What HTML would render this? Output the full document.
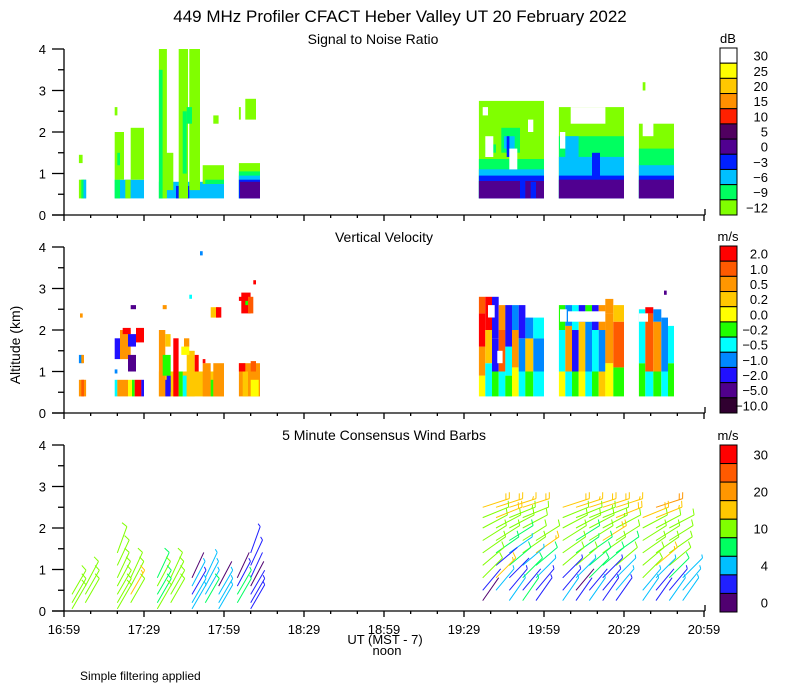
<!DOCTYPE html>
<html><head><meta charset="utf-8"><style>
body{margin:0;background:#fff;}
svg{display:block;font-family:"Liberation Sans",sans-serif;}
</style></head><body>
<svg id="chart" width="800" height="700" viewBox="0 0 800 700">
<text x="400" y="22" font-size="17" text-anchor="middle">449 MHz Profiler CFACT Heber Valley UT 20 February 2022</text>
<text x="373" y="44" font-size="14" text-anchor="middle">Signal to Noise Ratio</text>
<text x="384" y="242" font-size="14" text-anchor="middle">Vertical Velocity</text>
<text x="384" y="440" font-size="14" text-anchor="middle">5 Minute Consensus Wind Barbs</text>
<text x="20" y="345" font-size="14" text-anchor="middle" transform="rotate(-90 20 345)">Altitude (km)</text>
<text x="385" y="644" font-size="13" text-anchor="middle">UT  (MST - 7)</text>
<text x="387" y="655" font-size="13" text-anchor="middle">noon</text>
<text x="80" y="680" font-size="12">Simple filtering applied</text>
<g id="layers"></g>
</svg>
<script>
// ---- data ----
const xTickLabels = ["16:59","17:29","17:59","18:29","18:59","19:29","19:59","20:29","20:59"];
const yTickLabels = ["0","1","2","3","4"];
const snrColors = ["#80ff00","#00ff60","#00c0ff","#0020ff","#500090","#500060","#ff2000","#ff9000","#ffc800","#ffff00","#ffffff"];
const snrLabels = ["-12","-9","-6","-3","0","5","10","15","20","25","30"];
const vvColors = ["#ff0000","#ff5a00","#ff9600","#ffc800","#ffff00","#20ff00","#00ffff","#0088ff","#2010ff","#50008c","#300030"];
const vvLabels = ["2.0","1.0","0.5","0.2","0.0","-0.2","-0.5","-1.0","-2.0","-5.0","-10.0"];
const windColors = ["#ff0000","#ff5a00","#ff9600","#ffc800","#80ff00","#00ff60","#00bfff","#2020ff","#500070"];
const windLabels = ["30","","20","","10","","4","","0"];
const windBreaks = [30,25,20,15,10,7,4,2,0];
// rect cells: [t0 (min after 16:59), t1, h0 (km), h1, level]; level -1 = blank
const snrCells = [
[5.6,8.3,0.4,0.85,0],[6.5,7.5,0.4,0.85,1],[7.3,8.3,0.4,0.85,2],[5.6,7,1.25,1.45,0],
[19,30,0.4,0.85,2],[19,21,0.4,0.85,1],[23,25,0.4,0.85,0],[19,22.5,0.85,2.0,0],[25,30,0.85,2.1,0],[20,21,1.2,1.5,1],[19,20,2.4,2.6,0],
[35.6,60,0.4,0.8,2],[42,47,0.4,0.7,3],[35.6,38.6,0.4,4,0],[35.6,37,0.4,3.5,1],[38,41,0.6,1.5,0],[43,46.5,0.4,4,0],[47,51,0.6,4,0],[44.5,46,1.0,2.5,1],[46,48,2.2,2.6,1],[52,60,0.75,1.2,0],[53,60,0.75,0.85,1],[56,58,2.2,2.4,0],
[65.6,73.5,0.4,1.25,0],[65.6,73.5,0.4,1.05,1],[65.6,73.5,0.4,0.95,2],[65.6,73.5,0.4,0.85,3],[66,73.5,0.4,0.8,4],[65.6,66.3,2.3,2.6,0],[68,72,2.3,2.8,0],
[155.6,180,0.4,2.75,0],[155.6,180,0.4,1.35,1],[164,171,1.5,2.1,1],[158,162,1.5,1.7,1],[155.6,180,0.4,1.1,2],[165,169,1.6,1.9,2],[166,167,1.4,1.9,3],[155.6,180,0.4,0.95,3],[155.6,180,0.4,0.82,4],[171,173,0.4,0.9,3],[175,177,0.4,0.8,3],[158,161,1.4,1.9,-1],[167,170,1.1,1.6,-1],[174,176,2.0,2.3,-1],[157,159,2.4,2.6,-1],
[185.6,210,0.4,2.6,0],[185.6,210,0.4,1.9,1],[185.6,210,0.4,1.4,2],[188,193,1.4,1.9,2],[185.6,210,0.4,0.95,3],[198,201,0.9,1.5,3],[185.6,210,0.4,0.85,4],[190,203,2.2,2.6,-1],[186,188,1.6,2.0,-1],
[215.6,228.75,0.4,2.2,0],[215.6,228.75,0.4,1.6,1],[215.6,228.75,0.4,1.2,2],[215.6,228.75,0.4,0.95,3],[215.6,228.75,0.4,0.85,4],[217,221,1.9,2.3,-1],[217,218,3.0,3.2,0]
];
const vvCells = [
[5.6,8.3,0.4,0.8,2],[6.5,7.5,0.4,0.8,1],[5.6,7,1.2,1.4,7],[6.5,7.5,1.2,1.4,2],[6,7,2.3,2.4,2],
[19,20,0.4,0.8,6],[20,24,0.4,0.8,2],[24,25.5,0.4,0.8,4],[25.5,26.5,0.4,0.8,5],[26.5,29,0.4,0.8,0],[29,30,0.4,0.8,8],
[19,21,1.3,1.8,8],[21,25,1.3,2.0,2],[22,25,1.9,2.05,0],[24,27,1.6,1.9,8],[27,30,1.7,2.05,0],[24,27,1.0,1.4,9],[19,20,0.95,1.05,7],[25,27,2.5,2.6,9],
[35.6,60,0.4,1.0,3],[35.6,38,0.4,2.0,2],[41,43,0.4,1.8,0],[38,40,0.4,0.8,8],[38.5,40,0.5,0.9,8],[43,44.5,0.4,1.0,5],[44.5,46,0.4,0.9,6],[46,49,0.4,1.5,3],[49,50.5,1.0,1.4,0],[52,55,0.4,1.2,2],[55,56,0.4,0.8,5],[56,60,0.4,1.2,2],[37,40,0.9,1.4,5],[44,47,1.4,1.6,4],[45,47,1.6,1.8,2],[38,40,1.6,1.9,3],[37,38.5,2.5,2.6,2],[47,48,2.75,2.85,6],[55,58,2.3,2.55,3],[57,59,2.3,2.55,0],[51,52,3.8,3.9,7],[52,53,1.2,1.3,0],
[65.6,73.5,0.4,1.2,2],[67,69,0.4,1.0,3],[70,73,0.4,0.8,4],[65.6,68,1.0,1.2,0],[70,72,1.0,1.25,1],[65.6,67,2.7,2.8,0],[66.5,70,2.4,2.9,0],[69,71,2.4,2.8,1],[68,69,2.6,2.7,5],[71,72,3.1,3.2,0],
[155.6,158,0.4,0.9,4],[155.6,158,0.9,1.6,2],[155.6,158,1.6,2.4,0],[155.6,158,2.4,2.8,1],
[158,160.5,0.4,1.2,6],[158,160.5,1.2,2.0,3],[158,160.5,2.0,2.8,0],
[160.5,163,0.4,1.0,5],[160.5,163,1.0,1.8,8],[160.5,163,1.8,2.8,8],
[163,165.5,0.4,1.0,6],[163,165.5,1.0,2.0,1],[163,165.5,2.0,2.6,2],
[165.5,168,0.4,0.9,5],[165.5,168,0.9,1.6,6],[165.5,168,1.6,2.6,8],
[168,170.5,0.4,1.1,4],[168,170.5,1.1,2.0,2],[168,170.5,2.0,2.6,7],
[170.5,173,0.4,1.0,6],[170.5,173,1.0,1.8,7],[170.5,173,1.8,2.6,8],
[173,176,0.4,1.0,5],[173,176,1.0,1.8,3],[173,176,1.8,2.3,7],
[176,180,0.4,1.0,6],[176,180,1.0,1.8,7],[176,180,1.8,2.3,6],
[159,161.5,2.3,2.6,-1],[162.5,164.5,1.2,1.5,-1],[174,180,2.3,2.6,-1],
[185.6,188,0.4,1.0,4],[185.6,188,1.0,2.0,6],[185.6,188,2.0,2.6,5],
[188,190.5,0.4,1.0,6],[188,190.5,1.0,2.1,2],[188,190.5,2.1,2.6,7],
[190.5,193,0.4,1.0,5],[190.5,193,1.0,2.0,8],[190.5,193,2.0,2.6,6],
[193,195.5,0.4,1.0,4],[193,195.5,1.0,2.2,3],[193,195.5,2.2,2.6,8],
[195.5,198,0.4,1.0,6],[195.5,198,1.0,2.2,7],[195.5,198,2.2,2.6,5],
[198,200.5,0.4,1.0,5],[198,200.5,1.0,2.0,6],[198,200.5,2.0,2.6,8],
[200.5,203,0.4,1.0,3],[200.5,203,1.0,2.0,7],[200.5,203,2.0,2.6,2],
[203,206,0.4,1.2,4],[203,206,1.2,2.4,2],[203,206,2.4,2.75,2],
[206,210,0.4,1.1,5],[206,210,1.1,2.2,1],[206,210,2.2,2.6,3],
[189,203,2.2,2.45,-1],[186,188.5,2.2,2.5,-1],
[215.6,218,0.4,1.2,5],[215.6,218,1.2,2.5,6],
[218,221,0.4,1.0,6],[218,221,1.0,2.4,1],[218,221,2.4,2.55,0],
[221,224,0.4,1.0,5],[221,224,1.0,2.2,2],[221,224,2.2,2.5,7],
[224,226.5,0.4,1.0,6],[224,226.5,1.0,2.3,7],
[226.5,228.75,0.4,1.2,5],[226.5,228.75,1.2,2.1,6],
[215.6,219,2.2,2.4,-1],[225,226,2.85,2.95,9]
];
// wind barbs (right group)
const rightTimes = [157,162,167,172,177,187,192,197,202,207,212,217,222,227,232];
const rightHeights = [2.5,2.25,2.0,1.7,1.4,1.1,0.8,0.5,0.25];
const rightDirs = [72,68,62,58,55,50,45,40,35];
const rightSpeeds = [
[18,18,17,18,null,18,17,18,18,17,null,null,21,null,null],
[12,18,13,12,null,12,12,13,12,18,null,18,17,null,null],
[11,12,12,12,null,12,11,12,13,12,null,12,11,12,null],
[12,11,8,12,11,12,8,12,18,12,null,12,12,12,null],
[10,9,4,12,17,12,7,9,12,8,null,12,10,12,null],
[12,2,8,6,9,11,12,8,9,12,null,12,17,12,null],
[11,17,2,9,4,3,4,9,3,6,null,11,5,9,5],
[2,4,3,2,3,3,1,2,3,4,null,6,2,3,5],
[1,null,4,7,3,5,2,6,3,3,null,5,2,4,6]
];
// wind barbs (left group)
const leftTimes = [3,8,20,25,35,40,48,53,58,65,70];
const leftHeights = [1.4,1.1,0.8,0.6,0.4,0.2,0.05];
const leftDirs = [20,25,25,28,30,30,30];
const leftSpeeds = [
[null,null,12,null,null,null,null,null,null,null,3],
[null,null,12,null,null,null,null,null,null,null,3],
[null,null,12,12,8,12,1,4,null,1,2],
[null,12,11,12,12,12,4,4,1,3,1],
[12,12,12,17,8,12,3,5,6,7,2],
[12,12,12,12,8,12,5,8,6,7,3],
[12,null,12,null,12,null,5,null,6,null,3]
];
// ---- rendering ----
const NS="http://www.w3.org/2000/svg";
const root=document.getElementById('layers');
const bases=[215,413,611];
const X=t=>64+t*80/30;
const Y=(b,h)=>b-h*41.5;
function mk(tag,attrs,parent){const e=document.createElementNS(NS,tag);for(const k in attrs)e.setAttribute(k,attrs[k]);(parent||root).appendChild(e);return e;}
function drawCells(cells,colors,base,name){
  const g=mk('g',{});
  
  
  cells.forEach(c=>{
    const x0=X(c[0]),x1=X(c[1]),y0=Y(base,c[3]),y1=Y(base,c[2]);
    const r=mk('rect',{x:x0.toFixed(1),y:y0.toFixed(1),width:(x1-x0).toFixed(1),height:(y1-y0).toFixed(1),fill:c[4]<0?'#ffffff':colors[c[4]]},g);
    
    
  });
}
drawCells(snrCells,snrColors,bases[0],'snr-heatmap');
drawCells(vvCells,vvColors,bases[1],'vv-heatmap');
function windColor(s){for(let i=0;i<windBreaks.length;i++){if(s>=windBreaks[i])return windColors[i];}return windColors[8];}
function drawBarbs(times,heights,dirs,speeds,name){
  const g=mk('g',{});
  
  
  heights.forEach((h,ri)=>{times.forEach((t,ci)=>{
    const s=speeds[ri][ci]; if(s===null)return;
    const d=dirs[ri]*Math.PI/180, L=28;
    const x0=X(t),y0=Y(bases[2],h);
    const ux=Math.sin(d),uy=-Math.cos(d);
    const x1=x0+ux*L,y1=y0+uy*L;
    const col=windColor(s);
    let p=`M${x0.toFixed(1)},${y0.toFixed(1)}L${x1.toFixed(1)},${y1.toFixed(1)}`;
    const px=-uy,py=ux;
    let n=Math.round(s/5);
    for(let k=0;k<n;k+=2){
      const bx=x1-ux*k*1.8,by=y1-uy*k*1.8;
      const fl=(n-k>=2)?6:3;
      p+=`M${bx.toFixed(1)},${by.toFixed(1)}L${(bx-px*fl+ux*2).toFixed(1)},${(by-py*fl+uy*2).toFixed(1)}`;
    }
    const e=mk('path',{d:p,stroke:col,'stroke-width':1,fill:'none'},g);
    
    
  });});
}
drawBarbs(leftTimes,leftHeights,leftDirs,leftSpeeds,'wind-barbs-left');
drawBarbs(rightTimes,rightHeights,rightDirs,rightSpeeds,'wind-barbs-right');
// axes
bases.forEach((b,pi)=>{
  const g=mk('g',{stroke:'#000','stroke-width':1.3,fill:'none'});
  
  
  mk('line',{x1:64,y1:Y(b,4),x2:64,y2:b},g);
  mk('line',{x1:52,y1:b,x2:705,y2:b},g);
  for(let i=0;i<=8;i++){const h=i*0.5;const len=(i%2===0)?12:6;mk('line',{x1:64-len,y1:Y(b,h),x2:64,y2:Y(b,h)},g);}
  for(let m=0;m<=240;m+=10){const len=(m%30===0)?6:3;mk('line',{x1:X(m),y1:b,x2:X(m),y2:b+len},g);}
  mk('line',{x1:705,y1:b,x2:705,y2:b-6},g);
  yTickLabels.forEach((lb,i)=>{
    const t=mk('text',{x:46,y:Y(b,i)+5,'font-size':13,'text-anchor':'end',fill:'#000',stroke:'none'});
    t.textContent=lb;
    
    
  });
});
xTickLabels.forEach((lb,i)=>{
  const t=mk('text',{x:X(i*30),y:634,'font-size':13,'text-anchor':'middle'});
  t.textContent=lb;
  
  
});
// colorbars
function colorbar(colors,labels,top,bottom,unit,name){
  const g=mk('g',{});
  
  
  const n=colors.length,hgt=(bottom-top)/n;
  colors.forEach((c,i)=>{
    const r=mk('rect',{x:720,y:top+i*hgt,width:17,height:hgt,fill:c,stroke:'#000','stroke-width':1},g);
    
    
    const lb=labels[n-1-i]!==undefined?labels[n-1-i]:'';
    if(lb){const t=mk('text',{x:768,y:top+i*hgt+hgt/2+5,'font-size':13,'text-anchor':'end'},g);t.textContent=lb.replace('-','\u2212');
      
      }
  });
  const u=mk('text',{x:728,y:top-5,'font-size':13,'text-anchor':'middle'},g);u.textContent=unit;
  
  
}
colorbar(snrColors.slice().reverse(),snrLabels,48,215,'dB','snr-colorbar');
colorbar(vvColors,vvLabels.slice().reverse(),246,413,'m/s','vv-colorbar');
colorbar(windColors,windLabels.slice().reverse(),445,612,'m/s','wind-colorbar');
</script>
</body></html>
